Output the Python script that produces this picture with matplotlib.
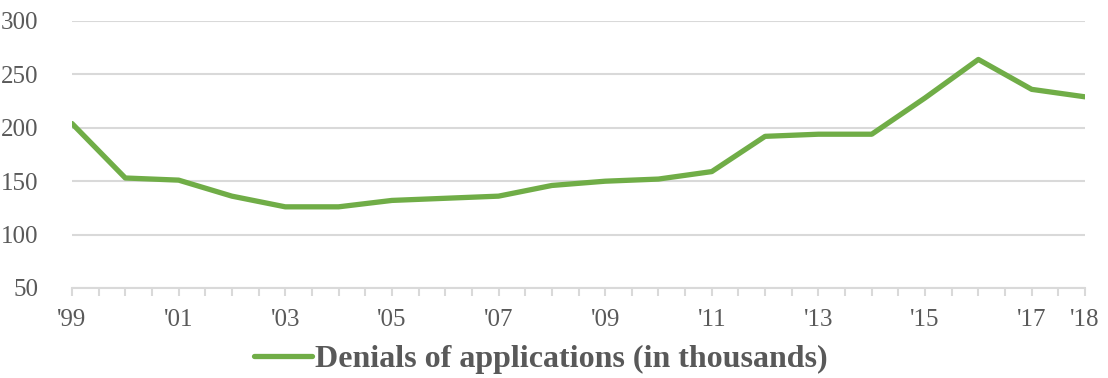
import matplotlib
matplotlib.use("Agg")
import matplotlib.pyplot as plt
import numpy as np

years = [1999, 2000, 2001, 2002, 2003, 2004, 2005, 2006, 2007, 2008,
         2009, 2010, 2011, 2012, 2013, 2014, 2015, 2016, 2017, 2018]
denials = [204, 153, 151, 136, 126, 126, 132, 134, 136, 146,
           150, 152, 159, 192, 194, 194, 228, 264, 236, 229]
label_years = [1999, 2001, 2003, 2005, 2007, 2009, 2011, 2013, 2015, 2017, 2018]
label_texts = ["'99", "'01", "'03", "'05", "'07", "'09", "'11", "'13", "'15", "'17", "'18"]
yticks = [50, 100, 150, 200, 250, 300]
series_name = "Denials of applications (in thousands)"

plt.rcParams['font.family'] = ['Liberation Serif', 'DejaVu Serif']
grey = '#595959'
gridc = '#d9d9d9'
green = '#70AD47'

fig = plt.figure(figsize=(11.08, 3.78), dpi=100)
ax = fig.add_axes([72/1108, 1 - 288/378, (1085-72)/1108, (288-21)/378])

ax.plot(years, denials, color=green, lw=3.8, solid_joinstyle='round',
        solid_capstyle='round', label=series_name, zorder=3)

ax.set_xlim(1999, 2018)
ax.set_ylim(50, 300)
ax.set_yticks(yticks)
ax.set_yticklabels([str(v) for v in yticks])
ax.set_xticks(label_years)
ax.set_xticklabels(label_texts)
ax.set_xticks(np.arange(1999, 2018.01, 0.5), minor=True)

ax.grid(axis='y', color=gridc, lw=1.5, zorder=0)
for s in ['top', 'right', 'left']:
    ax.spines[s].set_visible(False)
ax.spines['bottom'].set_color(gridc)
ax.spines['bottom'].set_linewidth(1.5)
ax.spines['bottom'].set_zorder(1)

ax.tick_params(axis='y', length=0, pad=24, labelsize=18, labelcolor=grey)
ax.tick_params(axis='x', which='both', length=6, width=1.5, color=gridc, direction='out',
               labelsize=18, labelcolor=grey, pad=9)

leg = fig.legend(loc='center', bbox_to_anchor=(541/1108, 1 - 359/378), frameon=False,
                 handlelength=1.8, handletextpad=0.12,
                 prop={'family': ['Liberation Serif'], 'weight': 'bold', 'size': 23})
for t in leg.get_texts():
    t.set_color(grey)

fig.savefig('out.png', dpi=100)
